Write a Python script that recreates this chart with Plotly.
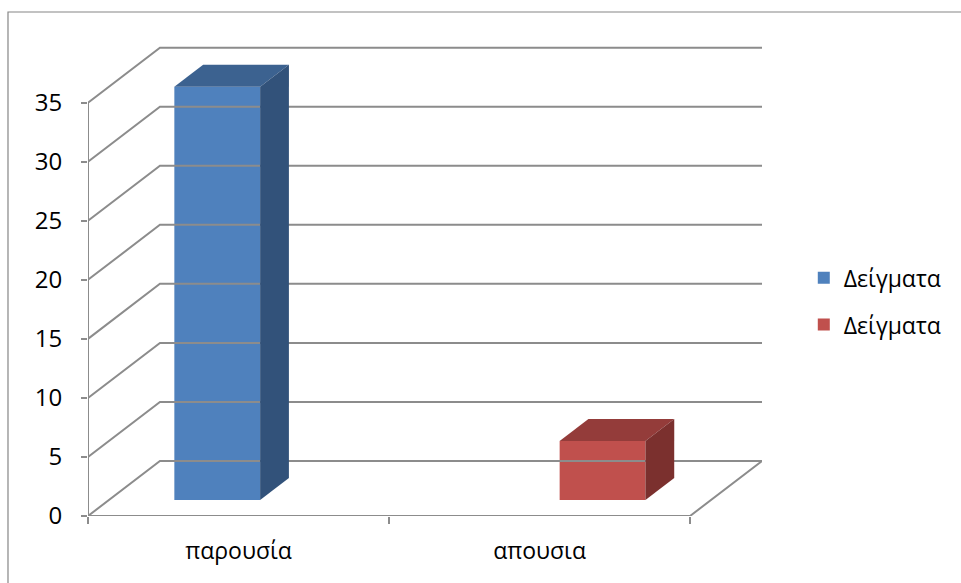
import plotly.graph_objects as go

categories = ["παρουσία", "απουσια"]
values = [35, 5]
series_names = ["Δείγματα", "Δείγματα"]
y_ticks = [0, 5, 10, 15, 20, 25, 30, 35]

# style / geometry constants
front_colors = ["#4F81BD", "#C0504D"]
top_colors = ["#3C6290", "#943C3A"]
side_colors = ["#32527A", "#7B302E"]
grid_color = "#8C8C8C"
DX = 0.239      # full depth offset along x (category units)
DY = 4.66       # full depth offset along y (value units)
D_FRONT = 0.29  # bar front depth fraction
D_BACK = 0.69   # bar back depth fraction
BAR_W = 0.285
SPREAD = 0.14
N = len(categories)
FONT = "Open Sans"


def proj(x, v, d):
    return x + d * DX, v + d * DY


fig = go.Figure()

# gridlines: left wall + back wall
gx, gy = [], []
for v in y_ticks:
    for (x, vv, d) in [(0, v, 0), (0, v, 1), (N, v, 1)]:
        px, py = proj(x, vv, d)
        gx.append(px); gy.append(py)
    gx.append(None); gy.append(None)
# floor front + right edge
for (x, vv, d) in [(0, 0, 0), (N, 0, 0), (N, 0, 1)]:
    px, py = proj(x, vv, d)
    gx.append(px); gy.append(py)
gx.append(None); gy.append(None)
# front vertical axis line
for (x, vv, d) in [(0, 0, 0), (0, y_ticks[-1], 0)]:
    px, py = proj(x, vv, d)
    gx.append(px); gy.append(py)

fig.add_trace(go.Scatter(x=gx, y=gy, mode="lines",
                         line=dict(color=grid_color, width=2),
                         showlegend=False, hoverinfo="skip"))

for i, (cat, val) in enumerate(zip(categories, values)):
    center = i + 0.5 + (i - (N - 1) / 2) * 2 * SPREAD
    xl, xr = center - BAR_W / 2, center + BAR_W / 2
    # top face
    pts = [proj(xl, val, D_FRONT), proj(xr, val, D_FRONT),
           proj(xr, val, D_BACK), proj(xl, val, D_BACK), proj(xl, val, D_FRONT)]
    fig.add_trace(go.Scatter(x=[p[0] for p in pts], y=[p[1] for p in pts],
                             fill="toself", fillcolor=top_colors[i], mode="lines",
                             line=dict(width=0, color=top_colors[i]),
                             showlegend=False, hoverinfo="skip"))
    # side face
    pts = [proj(xr, 0, D_FRONT), proj(xr, val, D_FRONT),
           proj(xr, val, D_BACK), proj(xr, 0, D_BACK), proj(xr, 0, D_FRONT)]
    fig.add_trace(go.Scatter(x=[p[0] for p in pts], y=[p[1] for p in pts],
                             fill="toself", fillcolor=side_colors[i], mode="lines",
                             line=dict(width=0, color=side_colors[i]),
                             showlegend=False, hoverinfo="skip"))
    # front face (legend entry)
    fx, fb = proj(center, 0, D_FRONT)
    fig.add_trace(go.Bar(x=[fx], y=[val], base=[fb], width=[BAR_W],
                         marker=dict(color=front_colors[i], line=dict(width=0)),
                         name=series_names[i], legendgroup=f"g{i}",
                         showlegend=True))

fig.update_layout(
    width=961, height=583, autosize=False,
    margin=dict(l=88, r=199, t=46, b=67),
    plot_bgcolor="white", paper_bgcolor="white",
    font=dict(family=FONT, size=22, color="black"),
    showlegend=True,
    legend=dict(x=1.062, y=0.457, xanchor="left", yanchor="middle",
                font=dict(family=FONT, size=23, color="black"),
                tracegroupgap=14, bgcolor="rgba(0,0,0,0)"),
    xaxis=dict(range=[0, N + DX], showgrid=False, zeroline=False, showline=False,
               tickvals=[i + 0.5 for i in range(N)], ticktext=categories,
               ticks="outside", ticklen=0, tickcolor="rgba(0,0,0,0)",
               ticklabelstandoff=14, tickfont=dict(size=23),
               minor=dict(tickvals=list(range(N + 1)), ticks="outside",
                          ticklen=7, tickcolor=grid_color, tickwidth=2),
               fixedrange=True),
    yaxis=dict(range=[0, 39.8], showgrid=False, zeroline=False, showline=False,
               tickvals=y_ticks, ticks="outside", ticklen=6,
               tickcolor=grid_color, tickwidth=2, ticklabelstandoff=14,
               tickfont=dict(size=24),
               fixedrange=True),
    shapes=[dict(type="rect", xref="paper", yref="paper",
                 x0=-0.1187, y0=-0.6, x1=1.6, y1=1.0723,
                 line=dict(color="#868686", width=1.2), fillcolor="rgba(0,0,0,0)",
                 layer="below")],
)

fig.write_html("out.html")
